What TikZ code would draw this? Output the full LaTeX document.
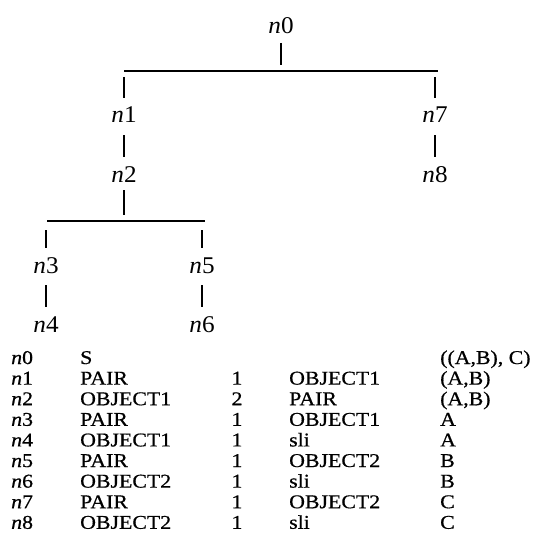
\documentclass[tikz,border=0pt]{standalone}
\usepackage{fontspec}
\setmainfont{Liberation Serif}
\newfontfamily\tabfont{Liberation Serif}[FakeStretch=1.12,FakeBold=0.6]
\newfontfamily\treefont{Liberation Serif}[FakeStretch=1.05]
\begin{document}
\begin{tikzpicture}[x=1pt,y=-1pt,
  treelab/.style={font=\treefont\fontsize{24}{24}\selectfont, anchor=base, inner sep=0pt},
  tabcell/.style={font=\tabfont\fontsize{19.5}{19.5}\selectfont, anchor=base west, inner sep=0pt},
  tabnum/.style={font=\tabfont\fontsize{19.5}{19.5}\selectfont, anchor=base, inner sep=0pt},
  stem/.style={line width=1.2pt},
  hbar/.style={line width=1.4pt}]
\useasboundingbox (0,0) rectangle (536,535);

% tree labels
\node[treelab] (n0) at (281,34) {\textit{n}0};
\node[treelab] (n1) at (124,123) {\textit{n}1};
\node[treelab] (n7) at (435,123) {\textit{n}7};
\node[treelab] (n2) at (124,182) {\textit{n}2};
\node[treelab] (n8) at (435,182) {\textit{n}8};
\node[treelab] (n3) at (46,273) {\textit{n}3};
\node[treelab] (n5) at (202,273) {\textit{n}5};
\node[treelab] (n4) at (46,332) {\textit{n}4};
\node[treelab] (n6) at (202,332) {\textit{n}6};

% first level
\coordinate (b1l) at (124,71);
\coordinate (b1r) at (438,71);
\draw[hbar] (b1l) -- (b1r);
\draw[stem, shorten <=9pt, shorten >=6pt] (n0.base) -- (n0.base |- b1l);
\draw[stem, shorten <=6pt, shorten >=25pt] (n1.base |- b1l) -- (n1.base);
\draw[stem, shorten <=6pt, shorten >=25pt] (n7.base |- b1l) -- (n7.base);
\draw[stem, shorten <=12pt, shorten >=25pt] (n1.base) -- (n2.base);
\draw[stem, shorten <=12pt, shorten >=25pt] (n7.base) -- (n8.base);

% second level
\coordinate (b2l) at (47,221);
\coordinate (b2r) at (205,221);
\draw[hbar] (b2l) -- (b2r);
\draw[stem, shorten <=8pt, shorten >=6pt] (n2.base) -- (n2.base |- b2l);
\draw[stem, shorten <=9pt, shorten >=25pt] (n3.base |- b2l) -- (n3.base);
\draw[stem, shorten <=9pt, shorten >=25pt] (n5.base |- b2l) -- (n5.base);
\draw[stem, shorten <=12pt, shorten >=25pt] (n3.base) -- (n4.base);
\draw[stem, shorten <=12pt, shorten >=25pt] (n5.base) -- (n6.base);

% table
\node[tabcell] (t0-a) at (11,364) {\textit{n}0};
\node[tabcell] (t0-b) at (80,364) {S};
\node[tabcell] (t0-e) at (440,364) {((A,B), C)};
\foreach \i/\b/\c/\d/\e in {
  1/PAIR/1/OBJECT1/{(A,B)},
  2/OBJECT1/2/PAIR/{(A,B)},
  3/PAIR/1/OBJECT1/A,
  4/OBJECT1/1/sli/A,
  5/PAIR/1/OBJECT2/B,
  6/OBJECT2/1/sli/B,
  7/PAIR/1/OBJECT2/C,
  8/OBJECT2/1/sli/C}{
  \pgfmathsetmacro{\yy}{364+20.6*\i}
  \node[tabcell] (t\i-a) at (11,\yy) {\textit{n}\i};
  \node[tabcell] (t\i-b) at (80,\yy) {\b};
  \node[tabnum]  (t\i-c) at (237,\yy) {\c};
  \node[tabcell] (t\i-d) at (289,\yy) {\d};
  \node[tabcell] (t\i-e) at (440,\yy) {\e};
}
\end{tikzpicture}
\end{document}
